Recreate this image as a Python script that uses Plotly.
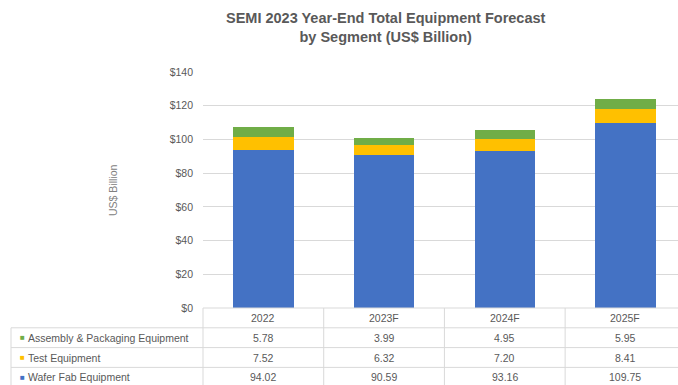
import plotly.graph_objects as go

categories = ["2022", "2023F", "2024F", "2025F"]
wafer_fab = [94.02, 90.59, 93.16, 109.75]
test_eq = [7.52, 6.32, 7.20, 8.41]
assembly = [5.78, 3.99, 4.95, 5.95]
wafer_labels = ["94.02", "90.59", "93.16", "109.75"]
test_labels = ["7.52", "6.32", "7.20", "8.41"]
assembly_labels = ["5.78", "3.99", "4.95", "5.95"]
y_ticks = [0, 20, 40, 60, 80, 100, 120, 140]
y_tick_text = ["&#36;0", "&#36;20", "&#36;40", "&#36;60", "&#36;80", "&#36;100", "&#36;120", "&#36;140"]

C_BLUE = "#4472C4"
C_YELLOW = "#FFC000"
C_GREEN = "#70AD47"
GRID = "#D9D9D9"
TXT = "#595959"
FONT = "Liberation Sans"

W, H = 678, 385
L, R, T, B = 203, 0, 72, 77
PH = H - T - B  # plot height px
PW = W - L - R

fig = go.Figure()
fig.add_trace(go.Bar(x=categories, y=wafer_fab, name="Wafer Fab Equipment",
                     marker=dict(color=C_BLUE, line=dict(width=0)), width=0.5))
fig.add_trace(go.Bar(x=categories, y=test_eq, name="Test Equipment",
                     marker=dict(color=C_YELLOW, line=dict(width=0)), width=0.5))
fig.add_trace(go.Bar(x=categories, y=assembly, name="Assembly & Packaging Equipment",
                     marker=dict(color=C_GREEN, line=dict(width=0)), width=0.5))


def py(px_below):
    return -px_below / PH


row_h = 19.8
left_x = -192 / PW
shapes = []
shapes.append(dict(type="line", xref="paper", yref="paper", x0=0, x1=1,
                   y0=0, y1=0, line=dict(color=GRID, width=1)))
for k in range(1, 4):
    shapes.append(dict(type="line", xref="paper", yref="paper",
                       x0=left_x, x1=1,
                       y0=py(k * row_h), y1=py(k * row_h),
                       line=dict(color=GRID, width=1)))
shapes.append(dict(type="line", xref="paper", yref="paper", x0=0, x1=0,
                   y0=0, y1=py(4 * row_h), line=dict(color=GRID, width=1)))
shapes.append(dict(type="line", xref="paper", yref="paper",
                   x0=left_x, x1=left_x,
                   y0=py(row_h), y1=py(4 * row_h), line=dict(color=GRID, width=1)))
for i in range(1, len(categories)):
    shapes.append(dict(type="line", xref="x", yref="paper",
                       x0=i - 0.5, x1=i - 0.5, y0=0, y1=py(4 * row_h),
                       line=dict(color=GRID, width=1)))

annotations = []
rows = [categories, assembly_labels, test_labels, wafer_labels]
for r, vals in enumerate(rows):
    for c, v in enumerate(vals):
        annotations.append(dict(x=c, xref="x", y=0, yref="paper",
                                yshift=-(r + 0.5) * row_h, text=v, showarrow=False,
                                xanchor="center", yanchor="middle",
                                font=dict(family=FONT, size=10.5, color=TXT)))

legend_rows = [("Assembly & Packaging Equipment", C_GREEN),
               ("Test Equipment", C_YELLOW),
               ("Wafer Fab Equipment", C_BLUE)]
for r, (name, col) in enumerate(legend_rows, start=1):
    annotations.append(dict(x=0, xref="paper", xshift=-185, y=0, yref="paper",
                            yshift=-(r + 0.5) * row_h,
                            text="■", showarrow=False, xanchor="left", yanchor="middle",
                            font=dict(family=FONT, size=8, color=col)))
    annotations.append(dict(x=0, xref="paper", xshift=-177, y=0, yref="paper",
                            yshift=-(r + 0.5) * row_h,
                            text=name, showarrow=False, xanchor="left", yanchor="middle",
                            font=dict(family=FONT, size=10.5, color=TXT)))

annotations.append(dict(x=0, xref="paper", xshift=-90, y=0.5, yref="paper",
                        text="US&#36; Billion", textangle=-90, showarrow=False,
                        xanchor="center", yanchor="middle",
                        font=dict(family=FONT, size=10.5, color="#808080")))

# chart title
annotations.append(dict(x=(386 - L) / PW, xref="paper", xanchor="center",
                        y=1 + (T - 8) / PH, yref="paper", yanchor="top",
                        text="<b>SEMI 2023 Year-End Total Equipment Forecast<br>by Segment (US&#36; Billion)</b>",
                        showarrow=False, align="center",
                        font=dict(family=FONT, size=14.5, color=TXT)))

fig.update_layout(
    width=W, height=H,
    margin=dict(l=L, r=R, t=T, b=B),
    barmode="stack",
    showlegend=False,
    paper_bgcolor="white", plot_bgcolor="white",
    xaxis=dict(type="category", range=[-0.5, 3.435], showticklabels=False, showgrid=False,
               zeroline=False, showline=False, ticks=""),
    yaxis=dict(range=[0, 140], tickvals=y_ticks, ticktext=y_tick_text,
               showgrid=True, gridcolor=GRID, gridwidth=1, zeroline=False,
               ticks="", ticklabelstandoff=9,
               tickfont=dict(family=FONT, size=10.5, color=TXT)),
    shapes=shapes,
    annotations=annotations,
)

fig.write_html("out.html")
